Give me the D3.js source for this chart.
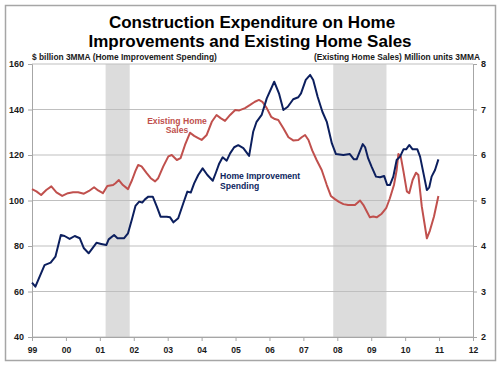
<!DOCTYPE html>
<html><head><meta charset="utf-8">
<script src="https://cdn.jsdelivr.net/npm/d3@7"></script>
<style>body{margin:0;background:#fff}svg{display:block}text{font-family:"Liberation Sans",Arial,sans-serif;font-weight:bold}</style>
</head><body><svg id="c" width="500" height="365"></svg>
<script>
const titleLines = ["Construction Expenditure on Home", "Improvements and Existing Home Sales"];
const leftLabel = "$ billion 3MMA (Home Improvement Spending)";
const rightLabel = "(Existing Home Sales) Million units 3MMA";
const leftTicks = [40, 60, 80, 100, 120, 140, 160];
const rightTicks = [2, 3, 4, 5, 6, 7, 8];
const yearTicks = [1999,2000,2001,2002,2003,2004,2005,2006,2007,2008,2009,2010,2011,2012];
const recessions = [[2001.17, 2001.88], [2007.88, 2009.45]];

const hiYears = [1999.0,1999.1,1999.37,1999.55,1999.69,1999.85,1999.96,2000.11,2000.26,2000.41,2000.53,2000.67,2000.9,2001.04,2001.19,2001.26,2001.42,2001.52,2001.71,2001.83,2001.95,2002.05,2002.16,2002.25,2002.33,2002.43,2002.56,2002.68,2002.79,2002.97,2003.07,2003.17,2003.31,2003.46,2003.58,2003.68,2003.78,2003.9,2004.03,2004.17,2004.33,2004.42,2004.52,2004.62,2004.74,2004.84,2004.96,2005.08,2005.23,2005.4,2005.52,2005.62,2005.77,2005.92,2006.14,2006.28,2006.41,2006.54,2006.7,2006.85,2006.93,2007.07,2007.2,2007.29,2007.42,2007.56,2007.69,2007.84,2007.96,2008.18,2008.37,2008.49,2008.57,2008.75,2008.82,2008.91,2009.01,2009.14,2009.26,2009.38,2009.47,2009.55,2009.65,2009.75,2009.85,2009.95,2010.03,2010.12,2010.22,2010.36,2010.44,2010.56,2010.64,2010.71,2010.78,2010.88,2010.98];
const hiValues = [63.9,62.1,71.6,72.7,75.3,84.8,84.4,83.1,84.4,83.4,79.0,76.8,81.4,80.9,80.4,82.9,84.8,83.4,83.4,85.6,92.0,97.6,99.5,99.1,100.5,101.7,101.7,97.3,92.9,92.9,92.6,90.4,92.2,98.8,103.9,103.5,107.5,111.2,114.1,111.2,108.7,112.2,116.3,119.0,117.5,120.7,123.4,124.3,123.0,119.6,130.2,134.6,137.6,144.9,152.2,147.1,139.8,141.2,144.5,145.4,147.1,153.0,155.2,153.0,145.6,139.0,134.6,125.1,120.4,120.0,120.4,118.1,118.1,124.8,123.4,118.5,114.9,110.5,110.2,110.8,106.8,106.8,110.5,117.8,119.3,122.5,122.5,124.4,122.5,122.5,119.3,110.5,104.6,105.8,110.5,113.4,118.1];

const ehsYears = [1999.0,1999.13,1999.27,1999.42,1999.57,1999.72,1999.89,2000.06,2000.21,2000.36,2000.53,2000.68,2000.83,2000.95,2001.09,2001.22,2001.39,2001.46,2001.56,2001.68,2001.83,2001.95,2002.05,2002.13,2002.23,2002.38,2002.5,2002.63,2002.72,2002.87,2003.02,2003.12,2003.27,2003.38,2003.51,2003.66,2003.78,2003.9,2004.0,2004.15,2004.3,2004.44,2004.56,2004.69,2004.84,2004.99,2005.11,2005.28,2005.43,2005.57,2005.69,2005.79,2005.92,2006.05,2006.16,2006.26,2006.41,2006.56,2006.7,2006.85,2006.95,2007.05,2007.15,2007.26,2007.39,2007.54,2007.69,2007.81,2007.93,2008.05,2008.18,2008.32,2008.52,2008.67,2008.77,2008.87,2008.96,2009.06,2009.16,2009.31,2009.44,2009.55,2009.67,2009.75,2009.8,2009.87,2009.95,2010.05,2010.12,2010.22,2010.32,2010.39,2010.49,2010.64,2010.73,2010.85,2010.98];
const ehsValues = [5.25,5.20,5.12,5.23,5.31,5.18,5.10,5.16,5.18,5.18,5.15,5.21,5.29,5.22,5.16,5.32,5.34,5.38,5.45,5.34,5.25,5.45,5.65,5.78,5.75,5.60,5.49,5.42,5.49,5.75,5.97,6.00,5.89,5.93,6.22,6.49,6.42,6.37,6.33,6.44,6.73,6.88,6.81,6.75,6.88,6.99,6.98,7.03,7.10,7.17,7.21,7.17,7.03,6.84,6.79,6.77,6.59,6.39,6.32,6.33,6.39,6.44,6.33,6.10,5.89,5.67,5.34,5.10,5.03,4.97,4.92,4.90,4.90,5.00,4.90,4.76,4.63,4.65,4.63,4.71,4.83,5.05,5.34,5.67,6.02,5.97,5.64,5.20,5.16,5.45,5.61,5.56,4.87,4.17,4.34,4.65,5.10];

const svg = d3.select("#c");
const L = 32, R = 473, T = 64, B = 337;
const x = d3.scaleLinear().domain([1999, 2012]).range([L, R]);
const yL = d3.scaleLinear().domain([40, 160]).range([B, T]);
const yR = d3.scaleLinear().domain([2, 8]).range([B, T]);

svg.append("rect").attr("x", 5.5).attr("y", 5.5).attr("width", 490).attr("height", 355)
  .attr("fill", "#fff").attr("stroke", "#a6a6a6").attr("stroke-width", 1.5);

// recessions
svg.selectAll("rect.rec").data(recessions).join("rect").attr("class", "rec")
  .attr("x", d => x(d[0])).attr("width", d => x(d[1]) - x(d[0]))
  .attr("y", T).attr("height", B - T).attr("fill", "#dcdcdc");

// gridlines
svg.selectAll("line.grid").data(leftTicks).join("line").attr("class", "grid")
  .attr("x1", L).attr("x2", R).attr("y1", d => yL(d)).attr("y2", d => yL(d))
  .attr("stroke", "#bfbfbf").attr("stroke-width", 1);

// axes
const axL = svg.append("g").attr("transform", `translate(${L},0)`)
  .call(d3.axisLeft(yL).tickValues(leftTicks).tickSize(4).tickPadding(4).tickFormat(d3.format("d")));
const axR = svg.append("g").attr("transform", `translate(${R},0)`)
  .call(d3.axisRight(yR).tickValues(rightTicks).tickSize(4).tickPadding(4).tickFormat(d3.format("d")));
const axB = svg.append("g").attr("transform", `translate(0,${B})`)
  .call(d3.axisBottom(x).tickValues(yearTicks).tickSize(4).tickPadding(6)
    .tickFormat(d => String(d).slice(2)));
[axL, axR, axB].forEach(g => {
  g.select(".domain").attr("stroke", "#a6a6a6");
  g.selectAll(".tick line").attr("stroke", "#a6a6a6");
  g.selectAll(".tick text").attr("fill", "#1a1a1a").style("font-size", "9px")
    .style("font-family", '"Liberation Sans", Arial, sans-serif').style("font-weight", "bold");
});
axB.selectAll(".tick text").style("font-size", "8.6px");

const line = (xs, ys, ysc) => d3.line().x((d, i) => x(xs[i])).y(d => ysc(d));
svg.append("path").attr("d", line(ehsYears, ehsValues, yR)(ehsValues))
  .attr("fill", "none").attr("stroke", "#c0504d").attr("stroke-width", 2).attr("stroke-linejoin", "round");
svg.append("path").attr("d", line(hiYears, hiValues, yL)(hiValues))
  .attr("fill", "none").attr("stroke", "#0c1f5e").attr("stroke-width", 2).attr("stroke-linejoin", "round");

// title
svg.append("text").attr("x", 252).attr("y", 28).attr("text-anchor", "middle")
  .style("font-size", "17px").attr("fill", "#000").text(titleLines[0]);
svg.append("text").attr("x", 250).attr("y", 46.5).attr("text-anchor", "middle")
  .style("font-size", "17px").attr("fill", "#000").text(titleLines[1]);

svg.append("text").attr("x", 32).attr("y", 60).style("font-size", "8.4px").attr("fill", "#1a1a1a").text(leftLabel);
svg.append("text").attr("x", 480).attr("y", 60).attr("text-anchor", "end").style("font-size", "8.4px").attr("fill", "#1a1a1a").text(rightLabel);

// annotations
const redNote = svg.append("text").attr("text-anchor", "middle").style("font-size", "8.6px").attr("fill", "#c0504d");
redNote.append("tspan").attr("x", 177).attr("y", 123.5).text("Existing Home");
redNote.append("tspan").attr("x", 177).attr("y", 133).text("Sales");
const blueNote = svg.append("text").style("font-size", "8.6px").attr("fill", "#0c1f5e");
blueNote.append("tspan").attr("x", 220).attr("y", 178.5).text("Home Improvement");
blueNote.append("tspan").attr("x", 220).attr("y", 188.5).text("Spending");
</script></body></html>
